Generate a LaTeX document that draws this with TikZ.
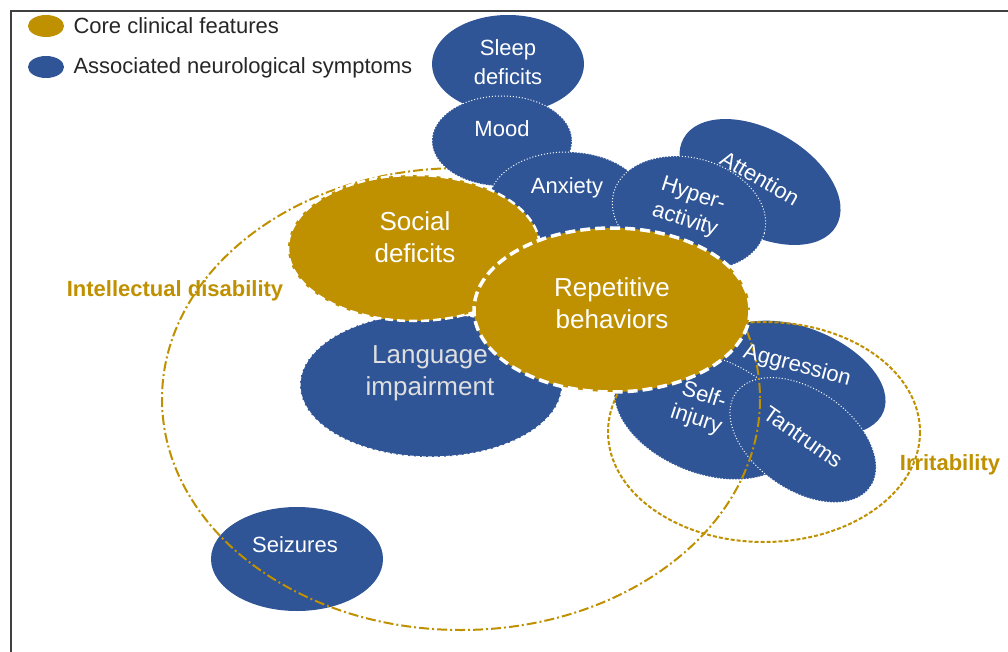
\documentclass[tikz,border=0pt]{standalone}
\usepackage{fontspec}
\setmainfont{Liberation Sans}

\definecolor{gold}{HTML}{BF9000}
\definecolor{navy}{HTML}{2F5597}

\begin{document}
\begin{tikzpicture}[x=1pt, y=-1pt,
  core/.style={fill=gold},
  symp/.style={fill=navy},
  dashrim/.style={draw=white, dash pattern=on 8pt off 4pt, line width=2.5pt},
  dotrim/.style={draw=white, dotted, line width=1pt},
  txt/.style={text=white, align=center, font=\fontsize{22}{29}\selectfont},
  bigtxt/.style={text=white, align=center, font=\fontsize{26}{32}\selectfont},
  tag/.style={text=gold, font=\fontsize{22}{26}\selectfont\bfseries}]
  \useasboundingbox (0,0) rectangle (1008,652);
  \draw[line width=2pt, black!75] (11,652) -- (11,11) -- (1008,11);

  % centres of the blobs
  \coordinate (sleep) at (508,64);
  \coordinate (mood) at (502,141);
  \coordinate (anx) at (567,202);
  \coordinate (att) at (760,182);
  \coordinate (hyp) at (689,213);
  \coordinate (soc) at (414,248);
  \coordinate (rep) at (612,310);
  \coordinate (lang) at (431,385);
  \coordinate (aggr) at (800,378);
  \coordinate (self) at (705,415);
  \coordinate (tant) at (803,440);
  \coordinate (seiz) at (297,559);
  \coordinate (id) at (461,399);
  \coordinate (irr) at (764,432);

  % legend
  \fill[core] (46,26) ellipse (18 and 11);
  \fill[symp] (46,67) ellipse (18 and 11);
  \node[anchor=west, font=\fontsize{22}{26}\selectfont, text=black!85] (lgcore) at (70,26) {Core clinical features};
  \node[anchor=west, font=\fontsize{22}{26}\selectfont, text=black!85] (lgsymp) at (70,68) {Associated neurological symptoms};

  % lower symptoms, crossed by the circles
  \fill[symp] (seiz) ellipse (86 and 52);
  \fill[symp, rotate around={-22:(aggr)}] (aggr) ellipse (90 and 50);
  \path[symp, dotrim, rotate around={-22:(self)}] (self) ellipse (95 and 58);
  \path[symp, dotrim, rotate around={-35:(tant)}] (tant) ellipse (82 and 50);

  % intellectual disability / irritability
  \draw[gold, line width=2pt, dash pattern=on 10pt off 3pt on 2pt off 3pt] (id) ellipse (299 and 231);
  \draw[gold, line width=2pt, dash pattern=on 4pt off 2pt] (irr) ellipse (156 and 110);

  % upper symptoms
  \fill[symp] (sleep) ellipse (76 and 49);
  \path[symp, dotrim] (mood) ellipse (70 and 45);
  \path[symp, dotrim] (anx) ellipse (78 and 50);
  \fill[symp, rotate around={-30:(att)}] (att) ellipse (88 and 52);
  \path[symp, dotrim, rotate around={-15:(hyp)}] (hyp) ellipse (78 and 55);
  \path[symp, draw=white, dash pattern=on 4pt off 2pt, line width=1.2pt] (lang) ellipse (131 and 72);

  % core features
  \path[core, dashrim] (soc) ellipse (126 and 73);
  \path[core, dashrim, line width=3.5pt, dash pattern=on 10pt off 5pt] (rep) ellipse (138 and 82);

  % labels
  \node[txt] (tsleep) at (508,62) {Sleep\\deficits};
  \node[txt] (tmood) at (502,129) {Mood};
  \node[txt] (tanx) at (567,188) {Anxiety};
  \node[txt, rotate=-30] (tatt) at (760,178) {Attention};
  \node[txt, rotate=-18, font=\fontsize{22}{27}\selectfont] (thyp) at (689,208) {Hyper-\\activity};
  \node[bigtxt] (tsoc) at (415,237) {Social\\deficits};
  \node[bigtxt] (trep) at (612,303) {Repetitive\\behaviors};
  \node[bigtxt, text=white!75!gray] (tlang) at (430,373) {Language\\impairment};
  \node[txt, rotate=-15] (taggr) at (797,366) {Aggression};
  \node[txt, rotate=-18, font=\fontsize{22}{25}\selectfont] (tself) at (700,408) {Self-\\injury};
  \node[txt, rotate=-35] (ttant) at (803,437) {Tantrums};
  \node[txt] (tseiz) at (295,545) {Seizures};
  \node[tag] (tid) at (175,291) {Intellectual disability};
  \node[tag] (tirr) at (950,465) {Irritability};
\end{tikzpicture}
\end{document}
